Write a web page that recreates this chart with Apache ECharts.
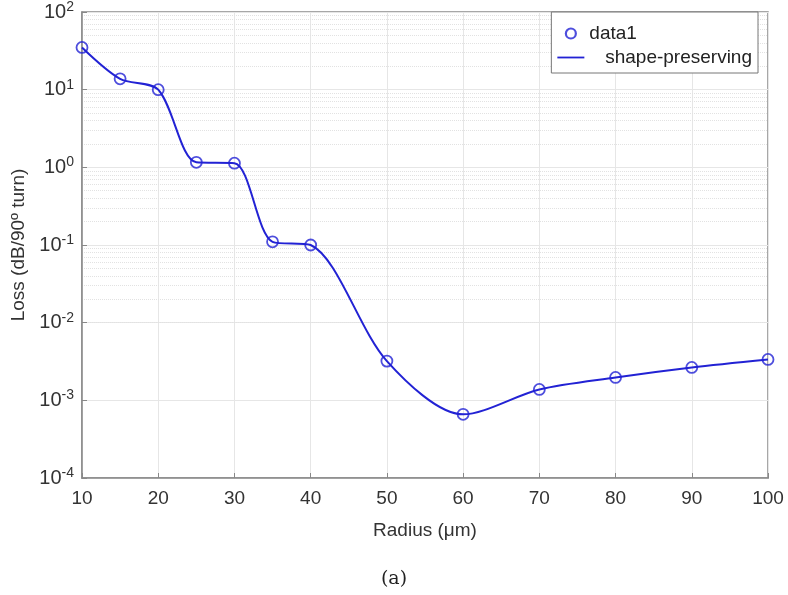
<!DOCTYPE html>
<html>
<head>
<meta charset="utf-8">
<script src="https://cdn.jsdelivr.net/npm/echarts@6/dist/echarts.min.js"></script>
<style>
  html, body { margin: 0; padding: 0; background: #fff; }
  #main { width: 788px; height: 595px; }
</style>
</head>
<body>
<div id="main"></div>
<script type="text/javascript">
    // radius values (um) and loss (dB/90deg turn)
    var radius = [10, 15, 20, 25, 30, 35, 40, 50, 60, 70, 80, 90, 100];
    var loss = [35, 13.8, 10, 1.16, 1.13, 0.11, 0.1, 0.0032, 0.00066, 0.00138, 0.00197, 0.00265, 0.00336];
    var xTicks = [10, 20, 30, 40, 50, 60, 70, 80, 90, 100];
    var yExponents = [-4, -3, -2, -1, 0, 1, 2];
    var minorMult = [2, 3, 4, 5, 6, 7, 8, 9];

    var pts = radius.map(function (r, i) { return [r, loss[i]]; });
    var blue = '#2222d4';
    var labelFont = 'Liberation Sans';

    // dotted minor grid lines at 2..9 x 10^n (log axis)
    var minorLines = [];
    yExponents.slice(0, -1).forEach(function (e) {
        minorMult.forEach(function (m) {
            minorLines.push({ yAxis: m * Math.pow(10, e) });
        });
    });

    var myChart = echarts.init(document.getElementById('main'));
    myChart.setOption({
        animation: false,
        title: {
            text: '(a)',
            left: 'center',
            top: 565,
            textStyle: { fontFamily: 'DejaVu Serif', fontWeight: 'normal', fontSize: 19, color: '#222' }
        },
        grid: {
            left: 82, right: 20, top: 10, bottom: 117,
            show: true, borderColor: '#8a8a8a', borderWidth: 1.5, backgroundColor: '#fff'
        },
        legend: {
            orient: 'vertical',
            right: 30, top: 12,
            padding: [12, 6, 6, 6],
            itemGap: 5,
            itemWidth: 27,
            itemHeight: 10,
            symbolKeepAspect: true,
            backgroundColor: '#fff',
            borderColor: '#777',
            borderWidth: 1,
            textStyle: { fontFamily: labelFont, fontSize: 19, color: '#222' },
            data: [
                { name: 'data1', icon: 'circle', itemStyle: { color: '#fff', borderColor: blue, borderWidth: 2.2 } },
                { name: 'shape-preserving', icon: 'path://M0,0 L30,0 L30,2 L0,2 Z', itemStyle: { color: blue, borderWidth: 0 } }
            ],
            formatter: function (n) { return n === 'shape-preserving' ? '   ' + n : n; }
        },
        xAxis: {
            type: 'value',
            min: 10, max: 100, interval: 10,
            name: 'Radius (\u03bcm)',
            nameLocation: 'middle',
            nameGap: 43,
            nameTextStyle: { fontFamily: labelFont, fontSize: 19, color: '#333' },
            axisLine: { lineStyle: { color: '#8a8a8a', width: 1.5 } },
            axisTick: { inside: true, length: 5, lineStyle: { color: '#888' } },
            axisLabel: {
                fontFamily: labelFont, fontSize: 19, color: '#333', margin: 11,
                formatter: function (v) { return xTicks.indexOf(v) >= 0 ? String(v) : ''; }
            },
            splitLine: { show: true, lineStyle: { color: '#e6e6e6' } }
        },
        yAxis: {
            type: 'log',
            logBase: 10,
            min: 1e-4, max: 100,
            name: 'Loss (dB/90\u00ba turn)',
            nameLocation: 'middle',
            nameGap: 52,
            nameTextStyle: { fontFamily: labelFont, fontSize: 19, color: '#333' },
            axisLine: { show: true, lineStyle: { color: '#8a8a8a', width: 1.5 } },
            axisTick: { inside: true, length: 5, lineStyle: { color: '#888' } },
            axisLabel: {
                fontFamily: labelFont, fontSize: 20, color: '#333', margin: 8,
                formatter: function (v) {
                    var e = Math.round(Math.log(v) / Math.LN10);
                    if (yExponents.indexOf(e) < 0) return '';
                    return '10{s|' + e + '}';
                },
                rich: { s: { fontFamily: labelFont, fontSize: 14, color: '#333', verticalAlign: 'top', padding: [0, 0, 10, 0] } }
            },
            splitLine: { show: true, lineStyle: { color: '#e6e6e6' } }
        },
        series: [
            {
                name: 'shape-preserving',
                type: 'line',
                data: pts,
                smooth: 0.3,
                showSymbol: false,
                symbol: 'none',
                lineStyle: { color: blue, width: 2 },
                itemStyle: { color: blue },
                z: 2,
                markLine: {
                    silent: true,
                    symbol: 'none',
                    label: { show: false },
                    lineStyle: { color: '#e2e2e2', type: 'dotted', width: 1 },
                    data: minorLines,
                    z: 0
                }
            },
            {
                name: 'data1',
                type: 'scatter',
                data: pts,
                symbol: 'circle',
                symbolSize: 11,
                itemStyle: { color: 'rgba(255,255,255,0)', borderColor: blue, borderWidth: 1.8 },
                z: 3
            }
        ]
    });
</script>
</body>
</html>
